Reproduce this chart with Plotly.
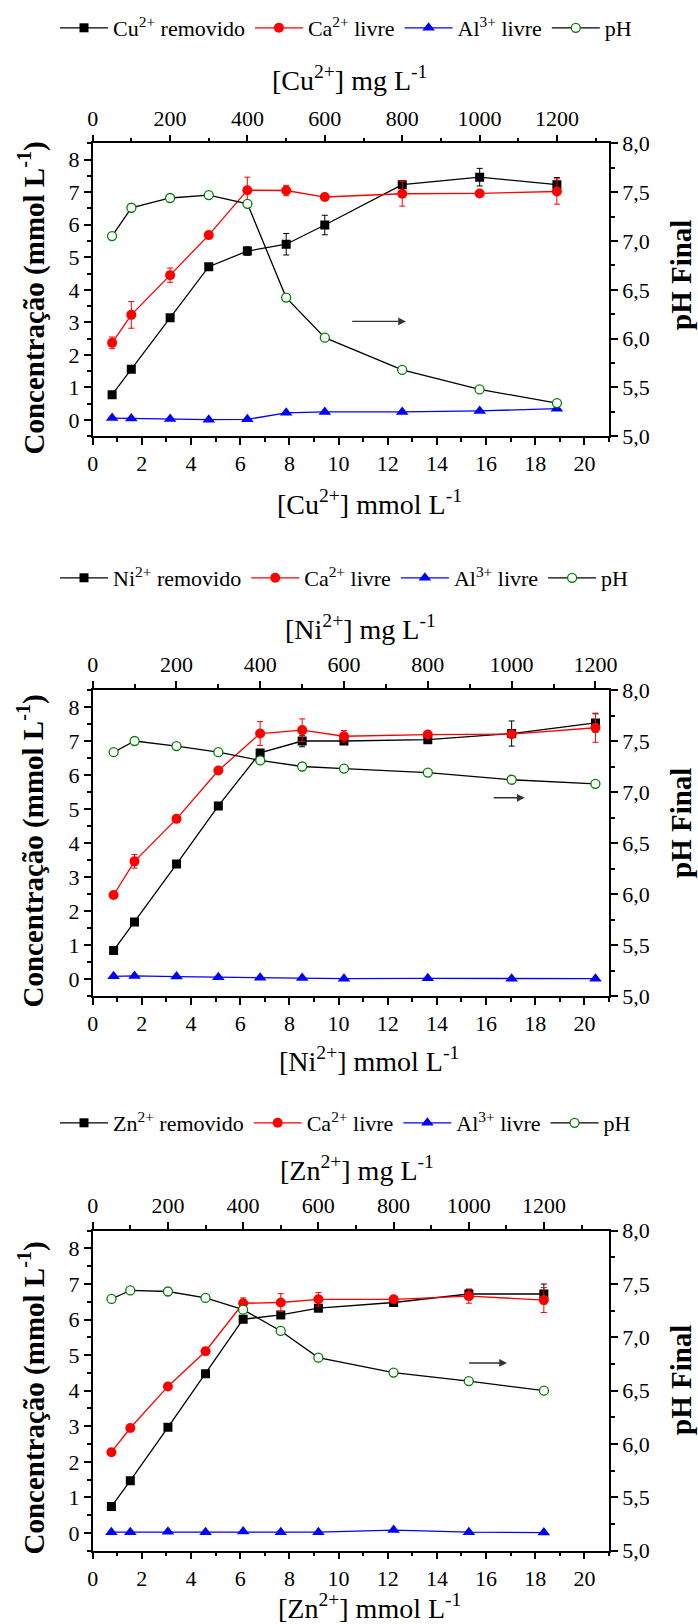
import plotly.graph_objects as go

FONT = "Liberation Serif, Times New Roman, serif"
W, H = 698, 1624

# ---- Cu2+ ----
cu_mg = [50, 100, 200, 300, 400, 500, 600, 800, 1000, 1200]
cu_mmol = [0.79, 1.57, 3.15, 4.72, 6.29, 7.87, 9.44, 12.59, 15.74, 18.88]
cu_removido = [0.78, 1.56, 3.14, 4.71, 5.19, 5.40, 5.99, 7.23, 7.46, 7.23]
cu_removido_err = [0, 0, 0, 0, 0.13, 0.33, 0.30, 0.10, 0.27, 0.22]
cu_ca = [2.37, 3.23, 4.45, 5.68, 7.06, 7.05, 6.85, 6.95, 6.96, 7.02]
cu_ca_err = [0.18, 0.41, 0.22, 0.05, 0.40, 0.16, 0.05, 0.38, 0.05, 0.39]
cu_al = [0.06, 0.05, 0.03, 0.01, 0.02, 0.22, 0.25, 0.25, 0.28, 0.35]
cu_ph = [7.05, 7.34, 7.44, 7.47, 7.38, 6.42, 6.01, 5.68, 5.48, 5.34]

# ---- Ni2+ ----
ni_mg = [50, 100, 200, 300, 400, 500, 600, 800, 1000, 1200]
ni_mmol = [0.85, 1.70, 3.41, 5.11, 6.81, 8.52, 10.22, 13.63, 17.04, 20.45]
ni_removido = [0.84, 1.68, 3.38, 5.09, 6.65, 7.00, 7.00, 7.04, 7.22, 7.53]
ni_removido_err = [0, 0, 0, 0, 0.10, 0.17, 0.05, 0.05, 0.37, 0.27]
ni_ca = [2.47, 3.46, 4.71, 6.13, 7.22, 7.32, 7.14, 7.19, 7.20, 7.39]
ni_ca_err = [0, 0.20, 0, 0, 0.35, 0.33, 0.17, 0.08, 0.05, 0.43]
ni_al = [0.08, 0.09, 0.07, 0.05, 0.04, 0.03, 0.01, 0.02, 0.01, 0.01]
ni_ph = [7.39, 7.50, 7.45, 7.39, 7.31, 7.25, 7.23, 7.19, 7.12, 7.08]

# ---- Zn2+ ----
zn_mg = [50, 100, 200, 300, 400, 500, 600, 800, 1000, 1200]
zn_mmol = [0.76, 1.53, 3.06, 4.59, 6.12, 7.65, 9.18, 12.24, 15.30, 18.35]
zn_removido = [0.74, 1.47, 2.97, 4.48, 6.01, 6.13, 6.32, 6.48, 6.72, 6.72]
zn_removido_err = [0, 0, 0, 0, 0, 0.08, 0.06, 0.06, 0.13, 0.28]
zn_ca = [2.27, 2.95, 4.12, 5.11, 6.46, 6.48, 6.57, 6.57, 6.66, 6.55]
zn_ca_err = [0, 0, 0, 0.10, 0.15, 0.25, 0.19, 0.08, 0.20, 0.35]
zn_al = [0.02, 0.02, 0.03, 0.02, 0.04, 0.02, 0.02, 0.08, 0.02, 0.01]
zn_ph = [7.36, 7.44, 7.43, 7.37, 7.26, 7.06, 6.81, 6.67, 6.59, 6.50]

# molar masses (g/mol) linking the mmol and mg scales
molar_mass = {"Cu": 63.55, "Ni": 58.69, "Zn": 65.38}

# pH arrows: (x start, x end, y) in mmol / concentration units
arrows = {"Cu": (10.49, 12.74, 3.03), "Ni": (16.25, 17.57, 5.33), "Zn": (15.25, 16.85, 4.78)}

panels = [
    dict(ion="Cu", mg=cu_mg, mmol=cu_mmol, rem=cu_removido, rem_err=cu_removido_err,
         ca=cu_ca, ca_err=cu_ca_err, al=cu_al, ph=cu_ph,
         top=143.3, bottom=436.3, legend_y=28, ttitle_y=78, btitle_y=503,
         ttitle_x=349, ltitle_y=298, rtitle_y=275),
    dict(ion="Ni", mg=ni_mg, mmol=ni_mmol, rem=ni_removido, rem_err=ni_removido_err,
         ca=ni_ca, ca_err=ni_ca_err, al=ni_al, ph=ni_ph,
         top=690, bottom=996, legend_y=578, ttitle_y=627, btitle_y=1059,
         ttitle_x=360, ltitle_y=851, rtitle_y=823),
    dict(ion="Zn", mg=zn_mg, mmol=zn_mmol, rem=zn_removido, rem_err=zn_removido_err,
         ca=zn_ca, ca_err=zn_ca_err, al=zn_al, ph=zn_ph,
         top=1230.7, bottom=1550.7, legend_y=1123, ttitle_y=1168, btitle_y=1606,
         ttitle_x=357, ltitle_y=1398, rtitle_y=1380),
]

X_LEFT, X_RIGHT = 92.7, 609.0
X_MAX = 21.0


def px(p):
    return p / W


def py(p):
    return 1 - p / H


def axname(kind, n):
    return f"{kind}axis" if n == 1 else f"{kind}axis{n}"


def axref(kind, n):
    return kind if n == 1 else f"{kind}{n}"


def axis_style():
    return dict(showline=True, linecolor="black", linewidth=1.5, ticks="outside",
                ticklen=7, tickwidth=1.5, tickcolor="black", showgrid=False,
                zeroline=False, tickfont=dict(family=FONT, size=22, color="black"))


def minor(dtick, tick0=0):
    return dict(dtick=dtick, tick0=tick0, ticks="outside", ticklen=4,
                tickwidth=1.5, tickcolor="black", showgrid=False)


fig = go.Figure()
layout = dict(width=W, height=H,
              margin=dict(l=0, r=0, t=0, b=0, autoexpand=False),
              font=dict(family=FONT, size=22, color="black"),
              paper_bgcolor="white", plot_bgcolor="white", separators=",.",
              showlegend=True, annotations=[])

for i, p in enumerate(panels):
    nb, nt = 2 * i + 1, 2 * i + 2
    xb, xt, yl, yr = axref("x", nb), axref("x", nt), axref("y", nb), axref("y", nt)
    leg = "legend" if i == 0 else f"legend{i + 1}"
    M = molar_mass[p["ion"]]
    ydom = [py(p["bottom"]), py(p["top"])]

    layout[axname("x", nb)] = dict(domain=[px(X_LEFT), px(X_RIGHT)], range=[0, X_MAX],
                                   anchor=yl, side="bottom", dtick=2, tick0=0,
                                   minor=minor(1), **axis_style())
    layout[axname("x", nt)] = dict(range=[0, X_MAX * M], overlaying=xb, anchor=yl,
                                   side="top", dtick=200, tick0=0, minor=minor(100),
                                   **axis_style())
    layout[axname("y", nb)] = dict(domain=ydom, range=[-0.5, 8.5], anchor=xb,
                                   side="left", dtick=1, tick0=0, minor=minor(0.5),
                                   **axis_style())
    layout[axname("y", nt)] = dict(range=[5, 8], overlaying=yl, anchor=xb, side="right",
                                   dtick=0.5, tick0=5, tickformat=".1f",
                                   minor=minor(0.25, 5), **axis_style())

    ion = p["ion"]
    fig.add_trace(go.Scatter(
        x=p["mmol"], y=p["rem"], xaxis=xb, yaxis=yl, legend=leg,
        name=f"{ion}<sup>2+</sup> removido", mode="lines+markers",
        line=dict(color="black", width=1.3),
        marker=dict(symbol="square", size=9, color="black"),
        error_y=dict(type="data", array=p["rem_err"], color="black", thickness=1, width=3)))
    fig.add_trace(go.Scatter(
        x=p["mmol"], y=p["ca"], xaxis=xb, yaxis=yl, legend=leg,
        name="Ca<sup>2+</sup> livre", mode="lines+markers",
        line=dict(color="#ff0000", width=1.3),
        marker=dict(symbol="circle", size=10, color="#ff0000"),
        error_y=dict(type="data", array=p["ca_err"], color="#ff0000", thickness=1, width=3)))
    fig.add_trace(go.Scatter(
        x=p["mmol"], y=p["al"], xaxis=xb, yaxis=yl, legend=leg,
        name="Al<sup>3+</sup> livre", mode="lines+markers",
        line=dict(color="#0000ff", width=1.3),
        marker=dict(symbol="triangle-up", size=11, color="#0000ff")))
    fig.add_trace(go.Scatter(
        x=p["mg"], y=p["ph"], xaxis=xt, yaxis=yr, legend=leg,
        name="pH", mode="lines+markers",
        line=dict(color="black", width=1.3),
        marker=dict(symbol="circle", size=9, color="white",
                    line=dict(color="#008000", width=1.3))))

    layout[leg] = dict(orientation="h", x=px(55), y=py(p["legend_y"]),
                       xanchor="left", yanchor="middle", itemwidth=48,
                       font=dict(family=FONT, size=22, color="black"),
                       bgcolor="rgba(0,0,0,0)")

    # pH arrow
    x0, x1, ya = arrows[ion]
    layout["annotations"].append(dict(
        x=x1, y=ya, ax=x0, ay=ya, xref=xb, yref=yl, axref=xb, ayref=yl,
        text="", showarrow=True, arrowhead=2, arrowsize=1.1, arrowwidth=1.4,
        arrowcolor="#333333"))

    title_font = dict(family=FONT, size=28, color="black")
    side_font = dict(family=FONT, size=29, color="black")
    layout["annotations"] += [
        dict(text=f"[{ion}<sup>2+</sup>] mg L<sup>-1</sup>", x=px(p["ttitle_x"]),
             y=py(p["ttitle_y"]), xref="paper", yref="paper", showarrow=False,
             xanchor="center", yanchor="middle", font=title_font),
        dict(text=f"[{ion}<sup>2+</sup>] mmol L<sup>-1</sup>", x=px(369),
             y=py(p["btitle_y"]), xref="paper", yref="paper", showarrow=False,
             xanchor="center", yanchor="middle", font=title_font),
        dict(text="<b>Concentração (mmol L<sup>-1</sup>)</b>", x=px(31.5),
             y=py(p["ltitle_y"]), xref="paper", yref="paper", showarrow=False,
             xanchor="center", yanchor="middle", textangle=-90, font=side_font),
        dict(text="<b>pH Final</b>", x=px(681), y=py(p["rtitle_y"]),
             xref="paper", yref="paper", showarrow=False, xanchor="center",
             yanchor="middle", textangle=-90, font=side_font),
    ]

fig.update_layout(**layout)
fig.write_html("out.html")
